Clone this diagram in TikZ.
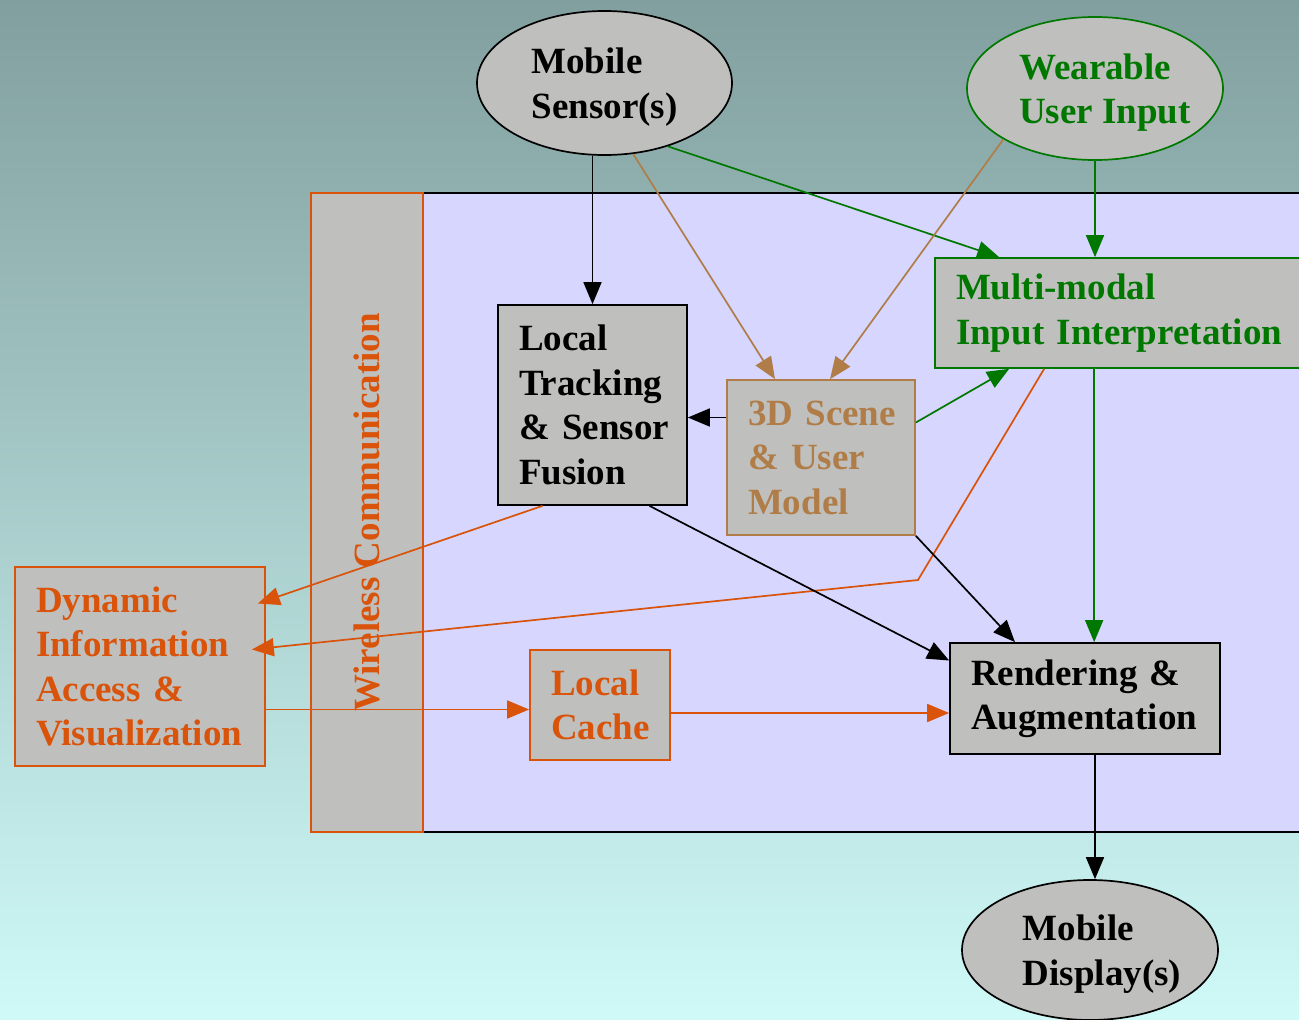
\documentclass[tikz,border=0pt]{standalone}
\usepackage{fontspec}
\setmainfont{Liberation Serif}
\usetikzlibrary{shapes.geometric,arrows.meta}
\definecolor{bgtop}{RGB}{129,159,158}
\definecolor{bgmid}{RGB}{182,222,220}
\definecolor{bgbot}{RGB}{207,250,248}
\definecolor{panelblue}{RGB}{214,214,254}
\definecolor{boxgray}{RGB}{191,192,190}
\definecolor{wireorange}{RGB}{217,83,10}
\definecolor{inputgreen}{RGB}{0,120,0}
\definecolor{scenebrown}{RGB}{176,125,72}
\hyphenpenalty=10000
\exhyphenpenalty=10000
\begin{document}
\begin{tikzpicture}[x=1pt,y=-1pt,
    font=\fontsize{37}{44.5}\selectfont\bfseries,
    box/.style={draw,line width=1.7pt,fill=boxgray,inner xsep=21pt,inner ysep=0pt,align=left},
    blob/.style={ellipse,draw,line width=1.7pt,fill=boxgray,inner sep=0pt,text depth=0pt,align=left},
    arr/.style={line width=1.7pt,-{Triangle[length=22pt,width=18pt]}}]
      \useasboundingbox (0,0) rectangle (1299,1020);
      \shade[top color=bgtop,middle color=bgmid,bottom color=bgbot] (0,0) rectangle (1299,1020);
      \draw[line width=1.7pt,fill=panelblue] (423,193) rectangle (1320,832);

      \node[draw=wireorange,line width=1.7pt,fill=boxgray,text=wireorange,rotate=90,
            minimum width=639pt,minimum height=112pt,inner sep=0pt] (wireless) at (367,512.5) {Wireless Communication};

      \node[blob,minimum width=255pt,minimum height=144pt] (sensor) at (604.5,83) {Mobile\\Sensor(s)};
      \node[blob,draw=inputgreen,text=inputgreen,minimum width=256pt,minimum height=143pt] (wear) at (1095,88.5)
            {\hspace*{10pt}Wearable\hspace*{-10pt}\\\hspace*{10pt}User~Input\hspace*{-10pt}};
      \node[box,draw=inputgreen,text=inputgreen,text width=338pt,minimum height=110pt] (multi) at (1125,313) {Multi-modal\\Input~Interpretation};
      \node[box,text width=147pt,minimum height=200pt] (track) at (592.5,405) {Local\\Tracking\\\&~Sensor\\Fusion};
      \node[box,draw=scenebrown,text=scenebrown,text width=146pt,minimum height=155pt] (scene) at (821,457.5) {3D~Scene\\\&~User\\Model};
      \node[box,text width=228pt,minimum height=111pt] (render) at (1085,698.5) {Rendering~\&\\Augmentation};
      \node[blob,minimum width=256pt,minimum height=140pt] (display) at (1090,950)
            {\hspace*{12pt}Mobile\hspace*{-12pt}\\\hspace*{12pt}Display(s)\hspace*{-12pt}};
      \node[box,draw=wireorange,text=wireorange,text width=208pt,minimum height=199pt] (dyn) at (140,666.5) {Dynamic\\Information\\Access~\&\\Visualization};
      \node[box,draw=wireorange,text=wireorange,text width=98pt,minimum height=110pt] (cache) at (600,705) {Local\\Cache};
      \coordinate (bend) at (918,580);

      \draw[arr] (track.north |- sensor.south) -- (track.north);
      \draw[arr,scenebrown] (sensor.-68) -- ([xshift=-46pt]scene.north);
      \draw[arr,inputgreen] (sensor.-45) -- ([xshift=65pt]multi.north west);
      \draw[arr,scenebrown] (wear.-151) -- ([xshift=9pt]scene.north);
      \draw[arr,inputgreen] (wear.south) -- (wear.south |- multi.north);
      \draw[arr] ([yshift=40pt]scene.west) -- ([yshift=40pt]scene.west -| track.east);
      \draw[arr,inputgreen] ([yshift=35pt]scene.east) -- ([xshift=75pt]multi.south west);
      \draw[arr,wireorange] ([xshift=110pt]multi.south west) -- (bend) -- ([xshift=-14pt,yshift=17pt]dyn.east);
      \draw[arr,wireorange] ([xshift=-50pt]track.south) -- ([xshift=-8pt,yshift=63pt]dyn.east);
      \draw[arr] ([xshift=57pt]track.south) -- ([yshift=38pt]render.west);
      \draw[arr] (scene.south east) -- ([xshift=-70pt]render.north);
      \draw[arr,inputgreen] ([xshift=160pt]multi.south west) -- ([xshift=160pt]multi.south west |- render.north);
      \draw[arr,wireorange] ([yshift=-43pt]dyn.east) -- ([yshift=-43pt]dyn.east -| cache.west);
      \draw[arr,wireorange] ([yshift=-8pt]cache.east) -- ([yshift=-8pt]cache.east -| render.west);
      \draw[arr] ([xshift=10pt]render.south) -- ([xshift=10pt]render.south |- display.north);
\end{tikzpicture}
\end{document}
